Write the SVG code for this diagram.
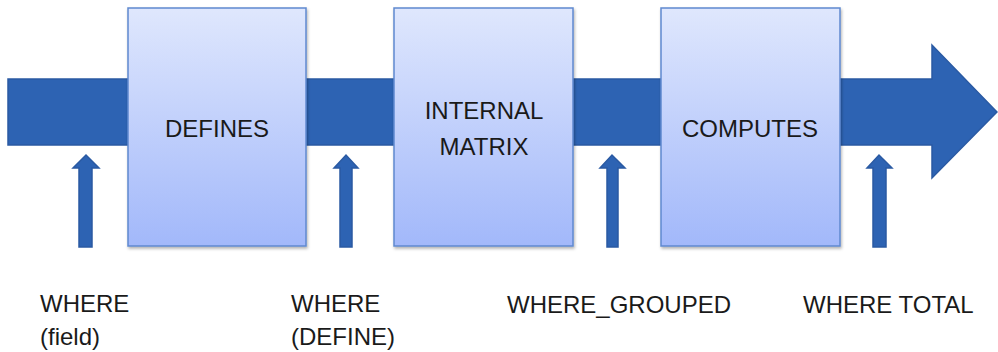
<svg xmlns="http://www.w3.org/2000/svg" width="998" height="352" viewBox="0 0 998 352">
<defs>
<linearGradient id="boxg" x1="0" y1="0" x2="0" y2="1">
<stop offset="0" stop-color="#dfe7fd"/>
<stop offset="1" stop-color="#a2b8fa"/>
</linearGradient>
<filter id="sh" x="-10%" y="-10%" width="120%" height="120%">
<feDropShadow dx="1" dy="2" stdDeviation="1.5" flood-color="#000" flood-opacity="0.3"/>
</filter>
</defs>
<style>
.flow{fill:#2d63b3;stroke:#2a5aa3;stroke-width:1.5}
.box{fill:url(#boxg);stroke:#5f89cf;stroke-width:1.5;filter:url(#sh)}
.lbl{font-family:"Liberation Sans",Arial,sans-serif;font-size:24px;fill:#1a1a1a}
.mid{text-anchor:middle}
</style>
<g id="connectors">
<path class="flow" d="M8,79 H932 V45 L997,112 L932,178 V145 H8 Z"/>
<path class="flow" d="M79,247 V168 H73 L86,155 L99,168 H92 V247 Z"/>
<path class="flow" d="M340,247 V168 H334 L346,155 L358,168 H352 V247 Z"/>
<path class="flow" d="M607,247 V168 H600 L612,155 L625,168 H618 V247 Z"/>
<path class="flow" d="M873,247 V168 H867 L879,155 L892,168 H886 V247 Z"/>
</g>
<g id="defines">
<rect class="box" x="128" y="8" width="178" height="238"/>
<text class="lbl mid" x="217" y="137">DEFINES</text>
</g>
<g id="internal-matrix">
<rect class="box" x="394" y="8" width="179" height="238"/>
<text class="lbl mid" x="484" y="119">INTERNAL</text>
<text class="lbl mid" x="484" y="155">MATRIX</text>
</g>
<g id="computes">
<rect class="box" x="661" y="8" width="179" height="238"/>
<text class="lbl mid" x="750" y="137">COMPUTES</text>
</g>
<g id="labels">
<text class="lbl" x="40" y="312">WHERE</text>
<text class="lbl" x="40" y="345">(field)</text>
<text class="lbl" x="291" y="312">WHERE</text>
<text class="lbl" x="291" y="345">(DEFINE)</text>
<text class="lbl" x="507" y="313">WHERE_GROUPED</text>
<text class="lbl" x="803" y="313">WHERE TOTAL</text>
</g>
</svg>
